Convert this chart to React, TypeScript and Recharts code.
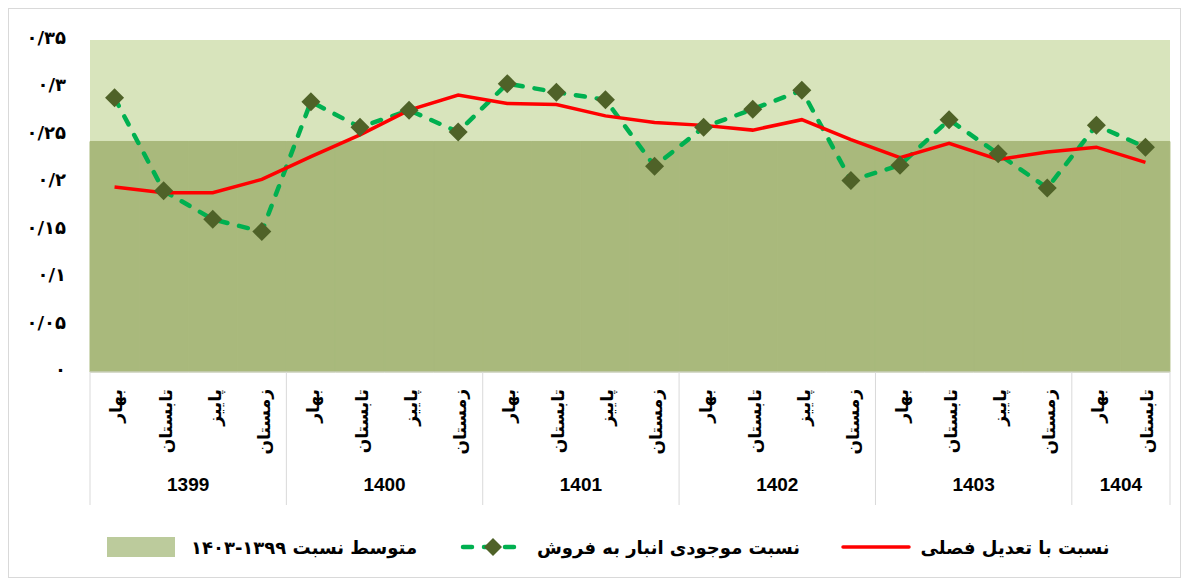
import { ComposedChart, Bar, Line, XAxis, YAxis, CartesianGrid } from "recharts";

const seasons = [
  "بهار", "تابستان", "پاییز", "زمستان",
  "بهار", "تابستان", "پاییز", "زمستان",
  "بهار", "تابستان", "پاییز", "زمستان",
  "بهار", "تابستان", "پاییز", "زمستان",
  "بهار", "تابستان", "پاییز", "زمستان",
  "بهار", "تابستان",
];
const years = [
  "1399", "1399", "1399", "1399",
  "1400", "1400", "1400", "1400",
  "1401", "1401", "1401", "1401",
  "1402", "1402", "1402", "1402",
  "1403", "1403", "1403", "1403",
  "1404", "1404",
];
const inventoryRatio = [
  0.289, 0.191, 0.161, 0.148,
  0.285, 0.258, 0.276, 0.253,
  0.304, 0.295, 0.287, 0.217,
  0.258, 0.277, 0.297, 0.202,
  0.218, 0.266, 0.230, 0.194,
  0.260, 0.237,
];
const seasonalAdjusted = [
  0.195, 0.189, 0.189, 0.203,
  0.227, 0.250, 0.276, 0.292,
  0.283, 0.282, 0.270, 0.263,
  0.260, 0.255, 0.266, 0.245,
  0.226, 0.241, 0.224, 0.232,
  0.237, 0.221,
];
const avgRatio = [
  0.243, 0.243, 0.243, 0.243,
  0.243, 0.243, 0.243, 0.243,
  0.243, 0.243, 0.243, 0.243,
  0.243, 0.243, 0.243, 0.243,
  0.243, 0.243, 0.243, 0.243,
  0.243, 0.243,
];
const yTicks = [0, 0.05, 0.1, 0.15, 0.2, 0.25, 0.3, 0.35];

const data = seasons.map((s, i) => ({
  key: `${years[i]}-${i}`,
  season: s,
  year: years[i],
  avg: avgRatio[i],
  ratio: inventoryRatio[i],
  adjusted: seasonalAdjusted[i],
}));

const W = 1171;
const H = 568;
const M = { top: 31, right: 10, left: 0, bottom: 72 };
const Y_W = 81;
const X_H = 133;
const plotW = W - M.left - M.right - Y_W;
const bw = plotW / data.length;

const persian = "۰۱۲۳۴۵۶۷۸۹";
const toFa = (v: number) =>
  String(v).replace(/\d/g, (d) => persian[+d]).replace(".", "/");

const LABEL_FONT = "'DejaVu Sans', sans-serif";

const SeasonTick = (props: any) => {
  const { x, y, payload, index } = props;
  const i = index as number;
  const yr = years[i];
  const first = i === 0 || years[i - 1] !== yr;
  const last = i === data.length - 1;
  const count = years.filter((v) => v === yr).length;
  const top = y;
  const ty = top + 17;
  return (
    <g>
      {first && (
        <line x1={x - bw / 2} x2={x - bw / 2} y1={top} y2={top + X_H} stroke="#d9d9d9" strokeWidth={1} />
      )}
      {last && (
        <line x1={x + bw / 2} x2={x + bw / 2} y1={top} y2={top + X_H} stroke="#d9d9d9" strokeWidth={1} />
      )}
      <text
        x={x + 2}
        y={ty}
        transform={`rotate(-90 ${x + 2} ${ty})`}
        textAnchor="end"
        dy="0.35em"
        fontSize={17}
        fontWeight="bold"
        fontFamily={LABEL_FONT}
        fill="#000"
      >
        {payload.value}
      </text>
      {first && (
        <text
          x={x - bw / 2 + (count * bw) / 2}
          y={top + 119}
          textAnchor="middle"
          fontSize={19}
          fontWeight="bold"
          fontFamily="'Liberation Sans', Arial, sans-serif"
          fill="#000"
        >
          {yr}
        </text>
      )}
    </g>
  );
};

const YTick = (props: any) => {
  const { x, y, payload } = props;
  return (
    <text
      x={x}
      y={y}
      dy={4}
      textAnchor="end"
      fontSize={18}
      fontWeight="bold"
      fontFamily={LABEL_FONT}
      fill="#000"
    >
      {toFa(payload.value)}
    </text>
  );
};

const Diamond = (props: any) => {
  const { cx, cy } = props;
  if (cx == null || cy == null) return null;
  const r = 9.5;
  return (
    <polygon
      points={`${cx},${cy - r} ${cx + r},${cy} ${cx},${cy + r} ${cx - r},${cy}`}
      fill="#4f6228"
    />
  );
};

const legendText: React.CSSProperties = {
  fontFamily: LABEL_FONT,
  fontWeight: "bold",
  fontSize: 18,
  color: "#000",
  direction: "rtl",
  whiteSpace: "nowrap",
};

export default function App() {
  return (
    <div
      style={{
        position: "relative",
        width: W + 2,
        height: H + 2,
        border: "1px solid #d9d9d9",
        boxSizing: "border-box",
        background: "#fff",
      }}
    >
      <ComposedChart width={W} height={H} data={data} margin={M} barCategoryGap={0}>
        <CartesianGrid fill="#d8e4bc" stroke="none" horizontal={false} vertical={false} />
        <XAxis
          dataKey="season"
          interval={0}
          height={X_H}
          tickLine={false}
          tickSize={0}
          tickMargin={0}
          axisLine={{ stroke: "#d9d9d9" }}
          tick={<SeasonTick />}
        />
        <YAxis
          domain={[0, 0.35]}
          ticks={yTicks}
          width={Y_W}
          axisLine={false}
          tickLine={false}
          tickSize={0}
          tickMargin={24}
          tick={<YTick />}
        />
        <Bar dataKey="avg" fill="#a9b97c" stroke="#a9b97c" strokeWidth={1} isAnimationActive={false} />
        <Line
          dataKey="ratio"
          stroke="#00b050"
          strokeWidth={4.5}
          strokeDasharray="9 12"
          strokeLinecap="round"
          dot={<Diamond />}
          activeDot={false}
          isAnimationActive={false}
        />
        <Line
          dataKey="adjusted"
          stroke="#ff0000"
          strokeWidth={3.5}
          dot={false}
          activeDot={false}
          isAnimationActive={false}
        />
      </ComposedChart>
      <div
        style={{
          position: "absolute",
          top: 524,
          left: 0,
          width: "100%",
          height: 28,
          display: "flex",
          alignItems: "center",
        }}
      >
        <div style={{ position: "absolute", left: 98, width: 68, height: 20, background: "#bccb9c" }} />
        <div style={{ ...legendText, position: "absolute", left: 173, width: 244, textAlign: "center" }}>
          متوسط نسبت ۱۳۹۹-۱۴۰۳
        </div>
        <svg style={{ position: "absolute", left: 450, top: 4 }} width={68} height={20}>
          <line x1={4} x2={64} y1={10} y2={10} stroke="#00b050" strokeWidth={4.5} strokeDasharray="9 12" strokeLinecap="round" />
          <polygon points="34,1 43,10 34,19 25,10" fill="#4f6228" />
        </svg>
        <div style={{ ...legendText, position: "absolute", left: 524, width: 271, textAlign: "center" }}>
          نسبت موجودی انبار به فروش
        </div>
        <svg style={{ position: "absolute", left: 832, top: 4 }} width={70} height={20}>
          <line x1={2} x2={68} y1={10} y2={10} stroke="#ff0000" strokeWidth={3.5} strokeLinecap="round" />
        </svg>
        <div style={{ ...legendText, position: "absolute", left: 908, width: 196, textAlign: "center" }}>
          نسبت با تعدیل فصلی
        </div>
      </div>
    </div>
  );
}
